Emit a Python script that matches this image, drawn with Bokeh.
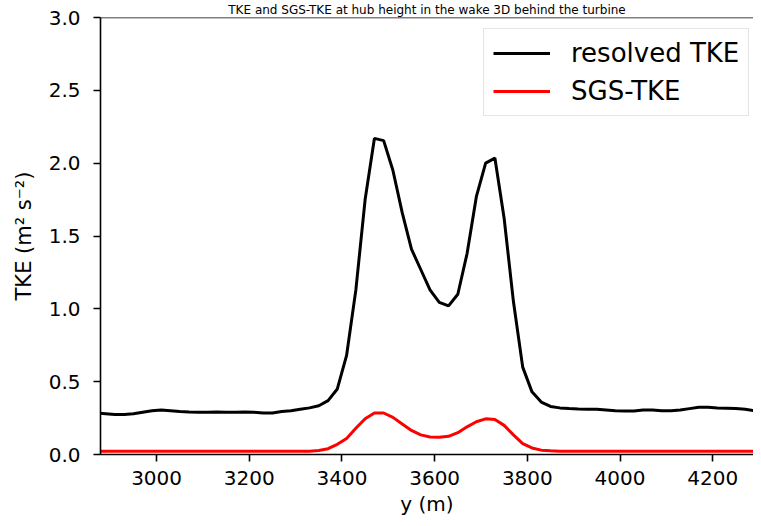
from bokeh.plotting import figure
from bokeh.models import Range1d, Span, Legend, LegendItem, ColumnDataSource, Title
from bokeh.embed import file_html
from bokeh.resources import INLINE

y_pos = [2870, 2890, 2910, 2930, 2950, 2970, 2990, 3010, 3030, 3050,
         3070, 3090, 3110, 3130, 3150, 3170, 3190, 3210, 3230, 3250,
         3270, 3290, 3310, 3330, 3350, 3370, 3390, 3410, 3430, 3450,
         3470, 3490, 3510, 3530, 3550, 3570, 3590, 3610, 3630, 3650,
         3670, 3690, 3710, 3730, 3750, 3770, 3790, 3810, 3830, 3850,
         3870, 3890, 3910, 3930, 3950, 3970, 3990, 4010, 4030, 4050,
         4070, 4090, 4110, 4130, 4150, 4170, 4190, 4210, 4230, 4250,
         4270, 4290, 4310]

resolved_tke = [0.285, 0.28, 0.275, 0.275, 0.28, 0.29, 0.30, 0.305, 0.30, 0.295,
                0.292, 0.29, 0.29, 0.292, 0.29, 0.29, 0.292, 0.29, 0.285, 0.285,
                0.295, 0.30, 0.31, 0.32, 0.335, 0.37, 0.45, 0.68, 1.13, 1.75,
                2.17, 2.155, 1.95, 1.66, 1.41, 1.27, 1.13, 1.045, 1.02, 1.10,
                1.38, 1.77, 2.0, 2.035, 1.62, 1.05, 0.60, 0.43, 0.36, 0.33,
                0.32, 0.315, 0.312, 0.31, 0.31, 0.305, 0.30, 0.298, 0.298, 0.305,
                0.305, 0.30, 0.30, 0.305, 0.315, 0.325, 0.325, 0.32, 0.318, 0.315,
                0.31, 0.30, 0.295]

sgs_tke = [0.022, 0.022, 0.022, 0.022, 0.022, 0.022, 0.022, 0.022, 0.022, 0.022,
           0.022, 0.022, 0.022, 0.022, 0.022, 0.022, 0.022, 0.022, 0.022, 0.022,
           0.022, 0.022, 0.022, 0.023, 0.028, 0.04, 0.07, 0.11, 0.18, 0.245,
           0.285, 0.285, 0.255, 0.21, 0.165, 0.135, 0.12, 0.118, 0.125, 0.15,
           0.19, 0.225, 0.245, 0.24, 0.20, 0.135, 0.075, 0.045, 0.03, 0.025,
           0.023, 0.022, 0.022, 0.022, 0.022, 0.022, 0.022, 0.022, 0.022, 0.022,
           0.022, 0.022, 0.022, 0.022, 0.022, 0.022, 0.022, 0.022, 0.022, 0.022,
           0.022, 0.022, 0.022]

x_ticks = [3000, 3200, 3400, 3600, 3800, 4000, 4200]
y_ticks = [0.0, 0.5, 1.0, 1.5, 2.0, 2.5, 3.0]

FONT = "DejaVu Sans"

p = figure(width=753, height=518, output_backend="svg", toolbar_location=None,
           x_range=Range1d(2879, 4288), y_range=Range1d(0, 3.0),
           min_border_left=100, min_border_right=0, min_border_top=17, min_border_bottom=64)
p.outline_line_color = None
p.grid.visible = False
p.background_fill_color = "white"

title = Title(text="TKE and SGS-TKE at hub height in the wake 3D behind the turbine",
              text_font=FONT, text_font_size="12px", text_font_style="normal",
              text_color="black", align="center", standoff=1, offset=0)
p.add_layout(title, "above")

src = ColumnDataSource(dict(x=y_pos, res=resolved_tke, sgs=sgs_tke))
r1 = p.line("x", "res", source=src, line_color="black", line_width=3)
r2 = p.line("x", "sgs", source=src, line_color="#ff0000", line_width=3)

for ax in (p.xaxis[0], p.yaxis[0]):
    ax.axis_line_width = 1.6
    ax.axis_line_color = "black"
    ax.major_tick_line_width = 1.6
    ax.major_tick_out = 7
    ax.major_tick_in = 0
    ax.minor_tick_line_color = None
    ax.major_label_text_font = FONT
    ax.major_label_text_font_size = "20px"
    ax.major_label_text_color = "black"

p.xaxis.ticker = x_ticks
p.yaxis.ticker = y_ticks
p.xaxis.major_label_standoff = 9
p.yaxis.major_label_standoff = 13
p.yaxis.major_label_overrides = {v: f"{v:.1f}" for v in y_ticks}

p.yaxis.axis_label = "TKE (m² s⁻²)"
p.yaxis.axis_label_text_font = FONT
p.yaxis.axis_label_text_font_size = "21px"
p.yaxis.axis_label_text_font_style = "normal"
p.yaxis.axis_label_text_color = "black"
p.yaxis.axis_label_standoff = 10

p.xaxis.axis_label = "y (m)"
p.xaxis.axis_label_text_font = FONT
p.xaxis.axis_label_text_font_size = "20px"
p.xaxis.axis_label_text_font_style = "normal"
p.xaxis.axis_label_text_color = "black"
p.xaxis.axis_label_standoff = 4

top_spine = Span(location=3.0, dimension="width", line_color="black", line_width=1.6)
p.add_layout(top_spine)

legend = Legend(items=[LegendItem(label="resolved TKE", renderers=[r1]),
                       LegendItem(label="SGS-TKE", renderers=[r2])],
                location=(383, 338))
legend.label_text_font = FONT
legend.label_text_font_size = "26px"
legend.label_text_color = "black"
legend.glyph_width = 57
legend.glyph_height = 30
legend.label_height = 30
legend.label_standoff = 21
legend.spacing = 8
legend.padding = 9
legend.border_line_color = "#cccccc"
legend.border_line_width = 1.5
legend.background_fill_alpha = 0.8
p.add_layout(legend)

open("out.html", "w").write(file_html(p, INLINE))
